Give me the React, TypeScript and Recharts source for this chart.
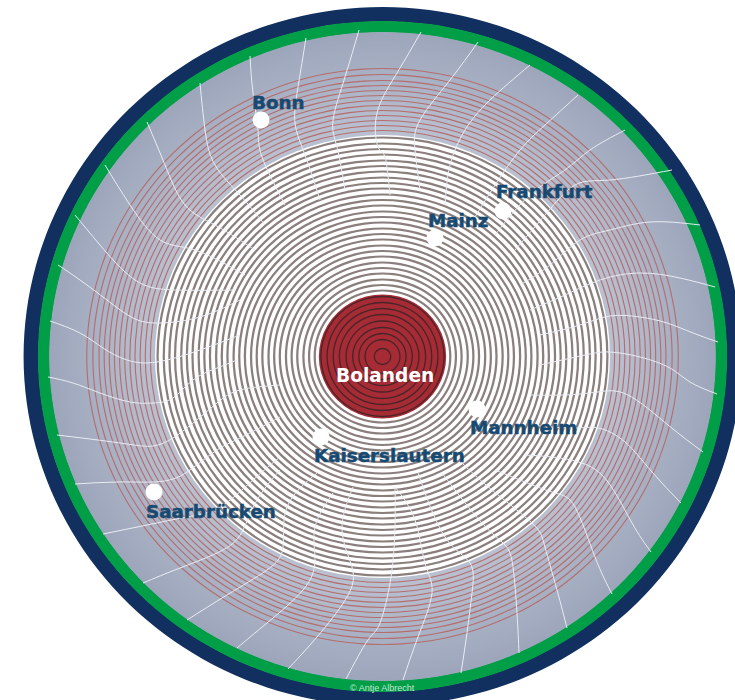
import { PieChart, Pie, ComposedChart, Line, Scatter, XAxis, YAxis } from 'recharts';

// distance rings around Bolanden, innermost first
const coreRings = [8, 17, 23, 29, 35.5, 42, 48, 54, 60];
const whiteRings = [66, 71.5, 77, 83, 88.5, 94, 100, 105.5, 111, 117, 122.5, 128, 134, 139.5, 145, 151, 156.5, 162, 168, 173.5, 179, 185, 190.5, 196, 202, 207.5, 213, 219];
const outerRings = [226, 231, 236, 241, 246, 251, 256, 261, 266, 271, 276, 282, 288];

const cities = [
  { name: 'Bonn', x: 261, y: 120 },
  { name: 'Frankfurt', x: 503, y: 211 },
  { name: 'Mainz', x: 435, y: 238 },
  { name: 'Mannheim', x: 477, y: 409 },
  { name: 'Kaiserslautern', x: 321, y: 437 },
  { name: 'Saarbrücken', x: 154, y: 492 },
];

const cityLabels = [
  { name: 'Bonn', x: 252, y: 109 },
  { name: 'Frankfurt', x: 496, y: 198 },
  { name: 'Mainz', x: 428, y: 227 },
  { name: 'Mannheim', x: 470, y: 434 },
  { name: 'Kaiserslautern', x: 314, y: 462 },
  { name: 'Saarbrücken', x: 146, y: 518 },
];

// rivers and roads, from the green edge inwards
const routes = [
  [[48, 377], [73, 383], [100, 393], [130, 402], [153, 403], [173, 398], [193, 380], [217, 368], [237, 360]],
  [[57, 435], [90, 439], [127, 444], [153, 446], [173, 438], [193, 423], [217, 403], [240, 390], [280, 385]],
  [[75, 484], [117, 482], [153, 482], [173, 479], [190, 470], [217, 450], [240, 438], [280, 417]],
  [[103, 534], [147, 525], [187, 517], [220, 507], [253, 480], [280, 457]],
  [[143, 583], [180, 568], [223, 550], [243, 530], [257, 500], [280, 470]],
  [[187, 620], [227, 595], [267, 570], [283, 547], [287, 507], [317, 473]],
  [[237, 648], [267, 623], [303, 590], [315, 560], [315, 527], [333, 493]],
  [[288, 669], [317, 637], [347, 597], [352, 567], [342, 530], [353, 487]],
  [[346, 679], [368, 640], [380, 623], [391, 577], [395, 527], [395, 487]],
  [[403, 680], [418, 637], [432, 593], [425, 563], [415, 520], [395, 487]],
  [[461, 673], [467, 633], [472, 593], [470, 563], [445, 537], [418, 473]],
  [[519, 653], [517, 613], [513, 567], [505, 545], [482, 523], [442, 473]],
  [[567, 628], [557, 590], [545, 547], [532, 523], [492, 490], [462, 463]],
  [[612, 594], [595, 557], [575, 507], [555, 493], [525, 482], [495, 470]],
  [[651, 552], [632, 523], [608, 482], [582, 463], [552, 457], [525, 455]],
  [[681, 503], [652, 472], [625, 442], [598, 428], [572, 428], [530, 425]],
  [[703, 452], [668, 425], [628, 395], [598, 392], [565, 395], [530, 395]],
  [[717, 394], [690, 382], [670, 368], [640, 357], [610, 352], [585, 355], [540, 365]],
  [[718, 342], [693, 333], [667, 323], [640, 317], [610, 316], [580, 325], [540, 335]],
  [[715, 287], [680, 278], [640, 273], [600, 280], [565, 295], [530, 310]],
  [[700, 225], [650, 222], [610, 230], [580, 240], [550, 265], [520, 285]],
  [[672, 170], [610, 180], [575, 185], [545, 215], [515, 250]],
  [[625, 130], [590, 150], [565, 170], [530, 195], [495, 235]],
  [[578, 95], [545, 125], [520, 150], [495, 185], [470, 225]],
  [[530, 65], [490, 100], [465, 130], [450, 165], [445, 205]],
  [[478, 42], [450, 80], [420, 120], [415, 150], [420, 190]],
  [[421, 32], [397, 73], [377, 113], [378, 147], [385, 157], [390, 195]],
  [[359, 30], [345, 77], [333, 120], [337, 147], [345, 190]],
  [[306, 38], [298, 87], [295, 123], [305, 155], [320, 200]],
  [[250, 56], [253, 93], [258, 130], [262, 157], [285, 205]],
  [[200, 83], [205, 130], [215, 165], [240, 195], [265, 225]],
  [[147, 122], [165, 165], [185, 205], [215, 225], [255, 250]],
  [[105, 165], [130, 205], [160, 240], [195, 250], [245, 275]],
  [[75, 215], [100, 245], [135, 280], [175, 290], [235, 290]],
  [[58, 265], [80, 280], [107, 300], [133, 318], [160, 323], [200, 317], [240, 300]],
  [[50, 321], [80, 333], [103, 348], [127, 360], [157, 362], [200, 350], [240, 335]],
];

const routeSeries = routes.map((r) => r.map(([x, y]) => ({ x, y })));

const CX = 382.5;
const CY = 356.5;

const disc = (key: string, outer: number, inner: number, fill: string) => (
  <Pie
    key={key}
    data={[{ value: 1 }]}
    dataKey="value"
    cx={CX}
    cy={CY}
    innerRadius={inner}
    outerRadius={outer}
    startAngle={0}
    endAngle={360}
    fill={fill}
    stroke="none"
    isAnimationActive={false}
  />
);

const rings = (list: number[], width: number, color: string, prefix: string) =>
  list.map((r) => disc(`${prefix}${r}`, r + width / 2, r - width / 2, color));

const CityDot = ({ cx, cy }: any) => <circle cx={cx} cy={cy} r={8.5} fill="#ffffff" />;

const CityLabel = ({ cx, cy, payload }: any) => (
  <text x={cx} y={cy} fontFamily="DejaVu Sans" fontWeight="bold" fontSize={18.3} fill="#174a72" stroke="#174a72" strokeWidth={0.5}>
    {payload.name}
  </text>
);

export default function App() {
  return (
    <div style={{ position: 'absolute', left: 0, top: 0, width: 735, height: 700, overflow: 'hidden', background: '#fff' }}>
      {/* the map is a little wider than high */}
      <div style={{ position: 'absolute', left: 0, top: 0, transform: 'scaleX(1.027)', transformOrigin: `${CX}px ${CY}px` }}>
        <PieChart width={735} height={700} margin={{ top: 0, right: 0, bottom: 0, left: 0 }}>
          <defs>
            <radialGradient id="land">
              <stop offset="0%" stopColor="#c4cbda" />
              <stop offset="70%" stopColor="#b8c0d0" />
              <stop offset="100%" stopColor="#9ca5ba" />
            </radialGradient>
          </defs>
          {disc('navy', 349.5, 335, '#11305f')}
          {disc('green', 335.5, 324, '#009e47')}
          {disc('land', 324.5, 0, 'url(#land)')}
          {rings(outerRings, 1.1, '#b56d6d', 'o')}
          {disc('white', 221.5, 0, '#ffffff')}
          {rings(whiteRings, 2.2, '#8a7f7d', 'w')}
          {disc('core', 62, 0, '#a72b34')}
          {rings(coreRings, 1.3, '#472528', 'c')}
        </PieChart>
      </div>
      <div style={{ position: 'absolute', left: 0, top: 0 }}>
        <ComposedChart width={735} height={700} margin={{ top: 0, right: 0, bottom: 0, left: 0 }}>
          <XAxis type="number" dataKey="x" domain={[0, 735]} hide />
          <YAxis type="number" dataKey="y" domain={[0, 700]} reversed hide />
          {routeSeries.map((data, i) => (
            <Line
              key={i}
              data={data}
              dataKey="y"
              type="natural"
              stroke="#e9ecf3"
              strokeWidth={1}
              dot={false}
              activeDot={false}
              isAnimationActive={false}
            />
          ))}
          <Scatter data={cities} dataKey="y" shape={CityDot} isAnimationActive={false} />
          <Scatter data={cityLabels} dataKey="y" shape={CityLabel} isAnimationActive={false} />
          <Scatter
            data={[{ x: 336, y: 382 }]}
            dataKey="y"
            shape={({ cx, cy }: any) => (
              <text x={cx} y={cy} fontFamily="DejaVu Sans" fontWeight="bold" fontSize={18.6} fill="#ffffff">
                Bolanden
              </text>
            )}
            isAnimationActive={false}
          />
          <Scatter
            data={[{ x: 350, y: 691 }]}
            dataKey="y"
            shape={({ cx, cy }: any) => (
              <text x={cx} y={cy} fontFamily="Liberation Sans" fontSize={9} fill="#c4e6d2">
                © Antje Albrecht
              </text>
            )}
            isAnimationActive={false}
          />
        </ComposedChart>
      </div>
    </div>
  );
}
